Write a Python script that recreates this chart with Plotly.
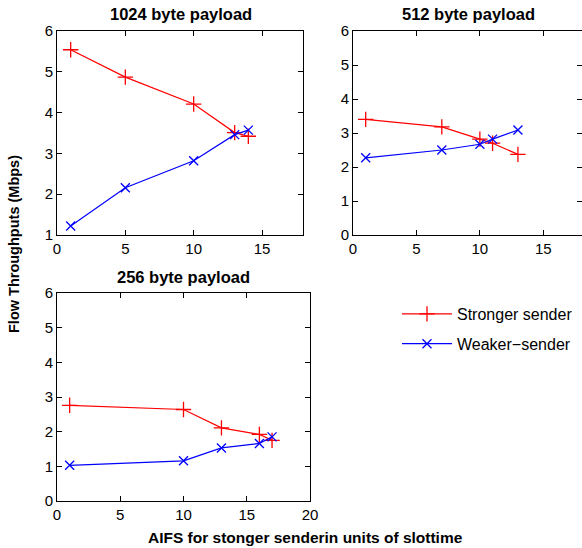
import plotly.graph_objects as go

W, H = 582, 548

titles = ["1024 byte payload", "512 byte payload", "256 byte payload"]

x1024 = [1, 5, 10, 13, 14]
strong1024 = [5.54, 4.87, 4.21, 3.51, 3.42]
weak1024 = [1.22, 2.16, 2.82, 3.46, 3.57]

x512 = [1, 7, 10, 11, 13]
strong512 = [3.40, 3.18, 2.82, 2.70, 2.37]
weak512 = [2.27, 2.50, 2.67, 2.82, 3.09]

x256 = [1, 10, 13, 16, 17]
strong256 = [2.76, 2.64, 2.11, 1.92, 1.75]
weak256 = [1.03, 1.16, 1.53, 1.66, 1.85]

series_names = ["Stronger sender", "Weaker\u2212sender"]
xticks12 = [0, 5, 10, 15]
xticks3 = [0, 5, 10, 15, 20]
yticks1 = [1, 2, 3, 4, 5, 6]
yticks23 = [0, 1, 2, 3, 4, 5, 6]

FONT = "Liberation Sans, Arial, sans-serif"

fig = go.Figure()

def px_x(a, b):
    return [a / W, min(b / W, 1.0)]

def px_y(top, bottom):
    return [1 - bottom / H, 1 - top / H]

panels = [
    (x1024, strong1024, weak1024, "x", "y", True),
    (x512, strong512, weak512, "x2", "y2", False),
    (x256, strong256, weak256, "x3", "y3", False),
]

for xs, s, w, xa, ya, leg in panels:
    fig.add_trace(go.Scatter(x=xs, y=s, mode="lines+markers", name=series_names[0],
                             xaxis=xa, yaxis=ya, showlegend=leg, legendgroup="s",
                             line=dict(color="#ff0000", width=1.2),
                             marker=dict(symbol="cross-thin", size=11,
                                         line=dict(color="#ff0000", width=1.3))))
    fig.add_trace(go.Scatter(x=xs, y=w, mode="lines+markers", name=series_names[1],
                             xaxis=xa, yaxis=ya, showlegend=leg, legendgroup="w",
                             line=dict(color="#0000ff", width=1.2),
                             marker=dict(symbol="x-thin", size=9,
                                         line=dict(color="#0000ff", width=1.3))))

axis_common = dict(showline=True, linecolor="black", linewidth=1, mirror="ticks",
                   ticks="inside", ticklen=5, tickcolor="black", showgrid=False,
                   zeroline=False, automargin=False,
                   tickfont=dict(family=FONT, size=15, color="black"))

fig.update_layout(
    width=W, height=H, margin=dict(l=0, r=0, t=0, b=0, autoexpand=False),
    paper_bgcolor="white", plot_bgcolor="white",
    xaxis=dict(domain=px_x(57, 303), range=[0, 18], tickvals=xticks12, anchor="y", **axis_common),
    yaxis=dict(domain=px_y(31, 235), range=[1, 6], tickvals=yticks1, anchor="x", **axis_common),
    xaxis2=dict(domain=px_x(353, 583), range=[0, 18.05], tickvals=xticks12, anchor="y2", **axis_common),
    yaxis2=dict(domain=px_y(31, 235), range=[0, 6], tickvals=yticks23, anchor="x2", **axis_common),
    xaxis3=dict(domain=px_x(57, 310), range=[0, 20], tickvals=xticks3, anchor="y3", **axis_common),
    yaxis3=dict(domain=px_y(293, 501), range=[0, 6], tickvals=yticks23, anchor="x3", **axis_common),
    legend=dict(x=397 / W, y=1 - 297 / H, xanchor="left", yanchor="top",
                font=dict(family=FONT, size=16, color="black"),
                bgcolor="rgba(0,0,0,0)", tracegroupgap=6, traceorder="grouped",
                itemwidth=50),
    showlegend=True,
)

annots = [
    dict(text="<b>%s</b>" % titles[0], x=181 / W, y=1 - 14 / H, size=16.5),
    dict(text="<b>%s</b>" % titles[1], x=468 / W, y=1 - 14 / H, size=16.5),
    dict(text="<b>%s</b>" % titles[2], x=183 / W, y=1 - 277 / H, size=16.5),
    dict(text="<b>AIFS for stonger senderin units of slottime</b>", x=305 / W, y=1 - 537 / H, size=15.5),
]
for a in annots:
    sz = a.pop("size")
    fig.add_annotation(xref="paper", yref="paper", showarrow=False,
                       xanchor="center", yanchor="middle",
                       font=dict(family=FONT, size=sz, color="black"), **a)
fig.add_annotation(xref="paper", yref="paper", showarrow=False, textangle=-90,
                   text="<b>Flow Throughputs (Mbps)</b>", x=14 / W, y=1 - 244 / H,
                   xanchor="center", yanchor="middle",
                   font=dict(family=FONT, size=14.5, color="black"))

fig.write_html("out.html", config={"displayModeBar": False},
               post_script="document.body.style.margin='0';document.body.style.overflow='hidden';")
